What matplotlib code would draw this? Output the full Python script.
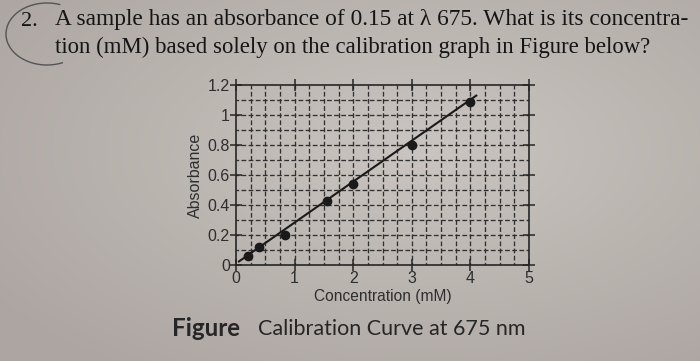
import numpy as np
import matplotlib
matplotlib.use("Agg")
import matplotlib.pyplot as plt
from matplotlib.lines import Line2D

# ---- data ----
conc = [0.2, 0.4, 0.83, 1.55, 2.0, 3.0, 4.0]
absorb = [0.06, 0.12, 0.20, 0.43, 0.54, 0.80, 1.09]
fit_x = [0.05, 4.1]
fit_slope = 0.273
fit_intercept = 0.01
xticks = [0, 1, 2, 3, 4, 5]
yticks = [0, 0.2, 0.4, 0.6, 0.8, 1.0, 1.2]
ytick_labels = ["0", "0.2", "0.4", "0.6", "0.8", "1", "1.2"]
question1 = "A sample has an absorbance of 0.15 at \u03bb 675. What is its concentra-"
question2 = "tion (mM) based solely on the calibration graph in Figure below?"

W, H = 700, 361
bg = "#c0bab5"
ink = "#262626"
fig = plt.figure(figsize=(W / 100, H / 100), dpi=100, facecolor=bg)

# paper shading (lighter upper-middle, darker lower-left)
yy, xx = np.mgrid[0:H, 0:W]
d = np.sqrt(((xx - 420) / 700) ** 2 + ((yy - 150) / 361) ** 2)
light = np.array([0xca, 0xc5, 0xc0]) / 255
dark = np.array([0xac, 0xa5, 0xa1]) / 255
k = np.clip(d / 0.75, 0, 1)[..., None]
img = light * (1 - k) + dark * k
fig.figimage(img, xo=0, yo=0, origin="upper", zorder=-5)

def px(x, y):
    return (x / W, 1 - y / H)

ax = fig.add_axes([236 / W, (H - 265) / H, 293 / W, 180 / H])
ax.set_zorder(2)
ax.patch.set_alpha(0)
ax.set_xlim(0, 5)
ax.set_ylim(0, 1.2)

# dashed grid
for gx in np.arange(0.25, 5.0, 0.25):
    ax.plot([gx, gx], [0, 1.2], color="#303030", lw=0.95,
            ls=(1.6, (3.6, 1.8)), zorder=1)
for gy in np.arange(0.1, 1.2, 0.1):
    ax.plot([0, 5], [gy, gy], color="#303030", lw=0.95,
            ls=(1.6, (3.6, 1.8)), zorder=1)

fy = [fit_slope * v + fit_intercept for v in fit_x]
ax.plot(fit_x, fy, color="#1a1a1a", lw=1.5, zorder=3)
ax.scatter(conc, absorb, s=36, color="#1a1a1a", zorder=4)

for s in ax.spines.values():
    s.set_color(ink)
    s.set_linewidth(1.2)

ax.set_xticks(xticks)
ax.set_xticklabels([str(t) for t in xticks])
ax.set_yticks(yticks)
ax.set_yticklabels(ytick_labels)
ax.tick_params(direction="inout", length=9, width=1.1, color=ink,
               labelcolor="#2e2e2e", labelsize=11.5, pad=0, top=True,
               right=True, labeltop=False, labelright=False)
for lab in ax.get_xticklabels() + ax.get_yticklabels():
    lab.set_fontfamily("Liberation Sans")

ax.set_xlabel("Concentration (mM)", fontsize=11.2, color="#2e2e2e",
              fontfamily="Liberation Sans", labelpad=2)
ax.set_ylabel("Absorbance", fontsize=11.5, color="#2e2e2e",
              fontfamily="Liberation Sans", labelpad=3)

# question text
fig.text(*px(21, 21), "2.", fontsize=16, family="Liberation Serif",
         color="#151515", va="center", ha="left")
t1 = fig.text(*px(55, 19), question1, fontsize=15, family="Liberation Serif",
              color="#151515", va="center", ha="left")
t2 = fig.text(*px(55, 47), question2, fontsize=15, family="Liberation Serif",
              color="#151515", va="center", ha="left")

# caption
c1 = fig.text(*px(172, 329), "Figure", fontsize=13, family="Lato",
              weight="bold", color="#262626", va="center", ha="left")
c2 = fig.text(*px(258, 329), "Calibration Curve at 675 nm", fontsize=13,
              family="Lato", color="#262626", va="center", ha="left")

# fit text widths
fig.canvas.draw()
r = fig.canvas.get_renderer()
for t, target in [(t1, 635), (t2, 598), (c1, 68), (c2, 267)]:
    w = t.get_window_extent(r).width
    t.set_fontsize(t.get_fontsize() * target / w)

# pencil circle around "2."
th = np.linspace(np.radians(72), np.radians(292), 100)
cx, cy, rx, ry = 47, 34, 41, 31
xs = cx + rx * np.cos(th)
ys = cy - ry * np.sin(th)
fig.add_artist(Line2D(xs / W, 1 - ys / H, transform=fig.transFigure,
                      color="#555555", lw=1.0))

fig.savefig("out.png", dpi=100, facecolor=bg)
